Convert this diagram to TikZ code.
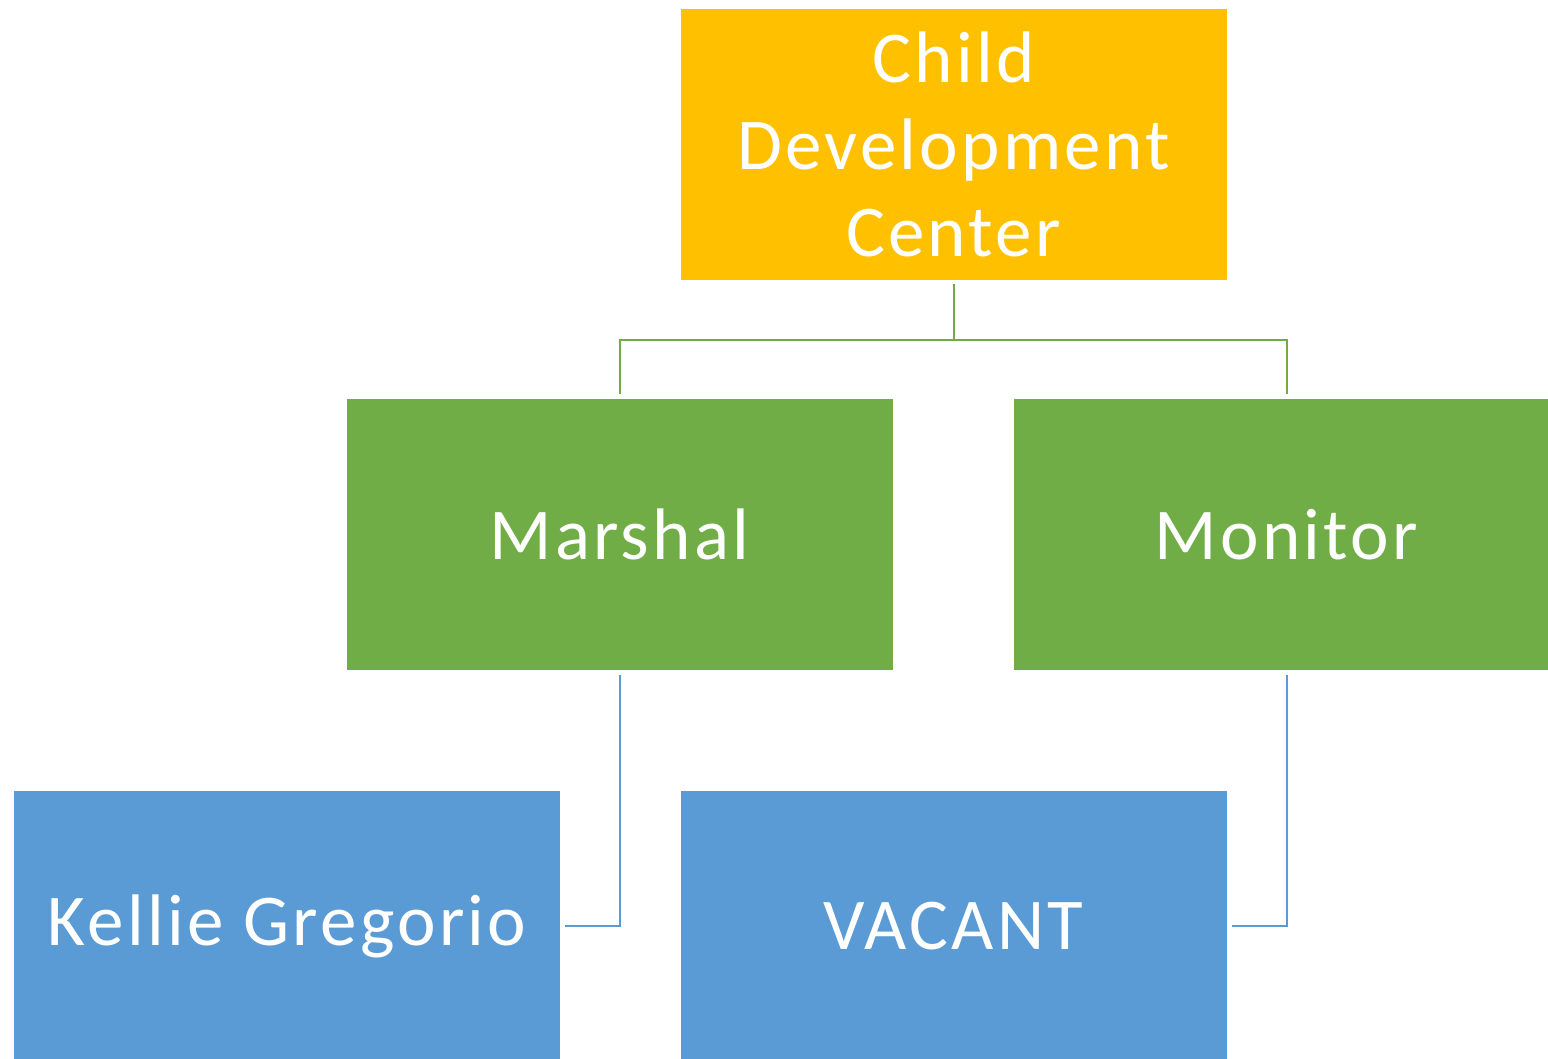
\documentclass[tikz,border=0pt]{standalone}
\usepackage{fontspec}
\setmainfont[LetterSpace=4.5]{Carlito}
\definecolor{cdcorange}{HTML}{FFC000}
\definecolor{cdcgreen}{HTML}{70AD47}
\definecolor{cdcblue}{HTML}{5B9BD5}
\begin{document}
\begin{tikzpicture}[x=1pt,y=-1pt,
	unit/.style={draw=white,line width=1pt,minimum width=547pt,minimum height=272pt,
		inner sep=0pt,text=white,align=center,font=\fontsize{73}{87}\selectfont},
	topunit/.style={unit,fill=cdcorange},
	midunit/.style={unit,fill=cdcgreen},
	lowunit/.style={unit,fill=cdcblue},
	greenlink/.style={draw=cdcgreen,line width=2pt},
	bluelink/.style={draw=cdcblue,line width=2pt}]
	\useasboundingbox (0,0) rectangle (1548,1058);
	\node[topunit] (center) at (953.5,144) {Child\\Development\\Center};
	\node[midunit] (marshal) at (619.5,534.5) {Marshal};
	\node[midunit] (monitor) at (1286.5,534.5) {Monitor};
	\node[lowunit] (kellie) at (287,926) {Kellie Gregorio};
	\node[lowunit] (vacant) at (953.5,926) {VACANT};
	\coordinate (hub) at (953.5,340);
	% links from the top
	\draw[greenlink] ([yshift=-3pt]center.south) -- (hub) -| ([yshift=4pt]marshal.north);
	\draw[greenlink] (hub) -| ([yshift=4pt]monitor.north);
	% links to the staff
	\draw[bluelink] ([yshift=-4pt]marshal.south) |- ([xshift=4pt]kellie.east);
	\draw[bluelink] ([yshift=-4pt]monitor.south) |- ([xshift=4pt]vacant.east);
\end{tikzpicture}
\end{document}
